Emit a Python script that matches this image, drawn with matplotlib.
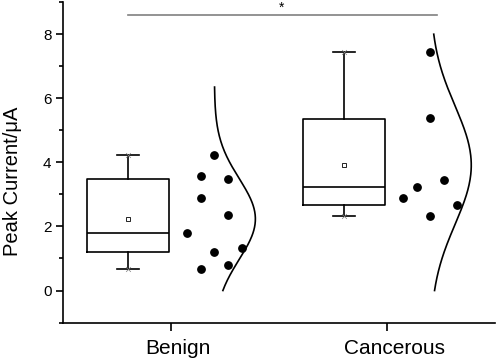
import numpy as np
import matplotlib
matplotlib.use("Agg")
import matplotlib.pyplot as plt
import matplotlib.transforms as mtransforms
from matplotlib.ticker import MultipleLocator

plt.rcParams['font.family'] = ['Liberation Sans', 'DejaVu Sans']

# ---- data ----
groups = ["Benign", "Cancerous"]
benign = [1.78, 3.56, 2.89, 0.68, 4.22, 1.21, 3.49, 2.37, 0.79, 1.34]
benign_col = [0, 1, 1, 1, 2, 2, 3, 3, 3, 4]
cancer = [2.89, 3.22, 7.44, 5.38, 2.32, 3.46, 2.68]
cancer_col = [0, 1, 2, 2, 2, 3, 4]

# box stats (Origin-style percentiles)
box_q1 = [1.19, 2.68]
box_med = [1.78, 3.22]
box_q3 = [3.49, 5.36]
box_lo = [0.68, 2.32]
box_hi = [4.22, 7.44]
box_mean = [2.23, 3.91]

# normal curve ranges
curve_lo = [0.0, 0.0]
curve_hi = [6.35, 8.0]

fig = plt.figure(figsize=(4.98, 3.6), dpi=100)
ax = fig.add_axes([0.127, 0.104, 0.867, 0.89])

stats = []
for i in range(2):
    stats.append(dict(med=box_med[i], q1=box_q1[i], q3=box_q3[i],
                      whislo=box_lo[i], whishi=box_hi[i], mean=box_mean[i],
                      fliers=[]))
ax.bxp(stats, positions=[0.8, 1.8], widths=0.38, showmeans=True,
       boxprops=dict(color="black", lw=1.2),
       medianprops=dict(color="black", lw=1.2),
       whiskerprops=dict(color="black", lw=1.2),
       capprops=dict(color="black", lw=1.2),
       capwidths=0.1,
       meanprops=dict(marker="s", markersize=3, markerfacecolor="white",
                      markeredgecolor="black", markeredgewidth=0.6))

# tiny x marks at whisker ends
ax.scatter([0.8, 0.8, 1.8, 1.8], [box_lo[0], box_hi[0], box_lo[1], box_hi[1]],
           marker="x", s=12, color="gray", lw=0.5, zorder=3)

# data points
for pos, vals, cols in [(1, benign, benign_col), (2, cancer, cancer_col)]:
    xs = [pos + 0.074 + 0.063 * c for c in cols]
    ax.scatter(xs, vals, s=28, color="black", zorder=3)

# normal distribution curves
for i, vals in enumerate([benign, cancer]):
    v = np.array(vals)
    mu, sd = v.mean(), v.std(ddof=1)
    yy = np.linspace(curve_lo[i], curve_hi[i], 200)
    xx = (i + 1.2) + 0.19 * np.exp(-0.5 * ((yy - mu) / sd) ** 2)
    ax.plot(xx, yy, color="black", lw=1.2)

# significance bar
ax.plot([0.8, 2.23], [8.6, 8.6], color="gray", lw=1.2)
ax.text(1.51, 8.6, "*", ha="center", va="bottom", fontsize=10)

ax.set_xlim(0.5, 2.5)
ax.set_ylim(-1, 9)
ax.set_xticks([1, 2])
ax.set_xticklabels(groups, fontsize=15)
ax.yaxis.set_major_locator(MultipleLocator(2))
ax.yaxis.set_minor_locator(MultipleLocator(1))
ax.set_yticks([0, 2, 4, 6, 8])
ax.tick_params(axis="y", labelsize=11, length=5, width=1.2, direction="out")
ax.tick_params(axis="y", which="minor", length=3, width=1.2)
ax.tick_params(axis="x", length=6, width=1.2, pad=6)
ax.set_ylabel("Peak Current/μA", fontsize=14.5)
ax.yaxis.set_label_coords(-0.095, 0.44)

# labels sit a little right of their ticks in the original
shift = mtransforms.ScaledTranslation(7 / 100, 0, fig.dpi_scale_trans)
for lab in ax.get_xticklabels():
    lab.set_transform(lab.get_transform() + shift)

for s in ["top", "right"]:
    ax.spines[s].set_visible(False)
for s in ["left", "bottom"]:
    ax.spines[s].set_linewidth(1.2)

fig.savefig("out.png", dpi=100)
